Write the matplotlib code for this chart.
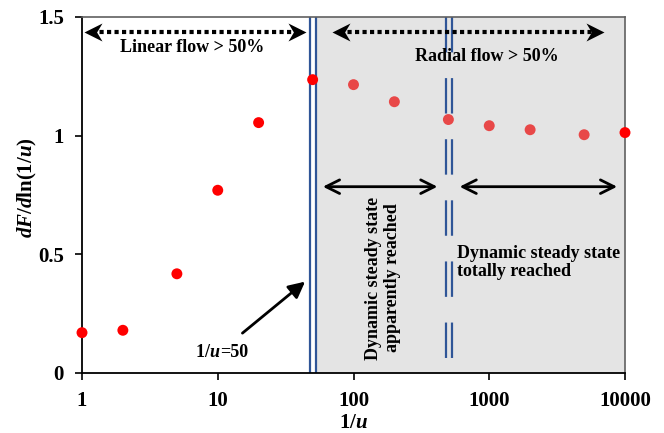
import matplotlib
matplotlib.use("Agg")
import matplotlib.pyplot as plt
from matplotlib.path import Path
from matplotlib.transforms import ScaledTranslation
import numpy as np

x_vals = [1, 2, 5, 10, 20, 50, 100, 200, 500, 1000, 2000, 5000, 10000]
y_vals = [0.17, 0.18, 0.418, 0.77, 1.055, 1.236, 1.215, 1.143, 1.068, 1.042, 1.025, 1.004, 1.013]
pt_colors = ['#FF0000'] * 6 + ['#E84848'] * 6 + ['#FF0000']
x_ticks = [1, 10, 100, 1000, 10000]
x_ticklabels = ['1', '10', '100', '1000', '10000']
y_ticks = [0, 0.5, 1, 1.5]
y_ticklabels = ['0', '0.5', '1', '1.5']

plt.rcParams['font.family'] = 'Liberation Serif'
plt.rcParams['font.weight'] = 'bold'
plt.rcParams['mathtext.fontset'] = 'custom'
plt.rcParams['mathtext.rm'] = 'Liberation Serif:bold'
plt.rcParams['mathtext.it'] = 'Liberation Serif:italic:bold'
plt.rcParams['mathtext.bf'] = 'Liberation Serif:bold'
plt.rcParams['lines.scale_dashes'] = False

fig = plt.figure(figsize=(6.64, 4.33), dpi=100)
ax = fig.add_axes([82/664, 60/433, 543/664, 356/433])
ax.set_xscale('log')
ax.set_xlim(1, 10000)
ax.set_ylim(0, 1.5)

# shaded region
ax.axvspan(53.5, 10000, color='#E4E4E4', zorder=0, lw=0)

blue = '#2F5597'
# solid double line at 1/u = 50
for xv in (47.8, 52.8):
    ax.plot([xv, xv], [1.5, 0], color=blue, lw=1.6, zorder=2)
# dashed double line at 1/u = 500
for xv in (478, 528):
    ax.plot([xv, xv], [1.5, 0], color=blue, lw=1.6, zorder=2,
            linestyle=(0, (25.5, 18.5)))

# data points
ax.scatter(x_vals, y_vals, c=pt_colors, s=62, zorder=4, linewidths=0, clip_on=False)

# stealth arrow-head markers
stealth_r = Path([(0.5, 0), (-0.5, 0.5), (-0.2, 0), (-0.5, -0.5), (0.5, 0)],
                 [Path.MOVETO, Path.LINETO, Path.LINETO, Path.LINETO, Path.CLOSEPOLY])
stealth_l = Path([(-0.5, 0), (0.5, 0.5), (0.2, 0), (0.5, -0.5), (-0.5, 0)],
                 [Path.MOVETO, Path.LINETO, Path.LINETO, Path.LINETO, Path.CLOSEPOLY])
head_px = 18

def dotted_arrow(x0, x1, y):
    off = head_px / 2 / 100
    tl = ax.transData + ScaledTranslation(off, 0, fig.dpi_scale_trans)
    tr = ax.transData + ScaledTranslation(-off, 0, fig.dpi_scale_trans)
    ax.plot([x0 * 1.15, x1 / 1.15], [y, y], color='black', lw=3.0,
            linestyle=(0, (3.0, 2.4)), solid_capstyle='butt', zorder=3)
    ax.plot([x0], [y], marker=stealth_l, markersize=head_px * 0.72, color='black',
            transform=tl, zorder=4, markeredgewidth=0)
    ax.plot([x1], [y], marker=stealth_r, markersize=head_px * 0.72, color='black',
            transform=tr, zorder=4, markeredgewidth=0)

dotted_arrow(1.03, 45, 1.435)
dotted_arrow(69, 6950, 1.435)

ax.text(6.5, 1.37, 'Linear flow > 50%', ha='center', va='center', fontsize=13, fontweight='bold')
ax.text(960, 1.335, 'Radial flow > 50%', ha='center', va='center', fontsize=13, fontweight='bold')

# solid double arrows
for x0, x1 in ((59.5, 415), (605, 8750)):
    ax.annotate('', xy=(x1, 0.785), xytext=(x0, 0.785),
                arrowprops=dict(arrowstyle='<->,head_length=0.7,head_width=0.35',
                                color='black', lw=2.0, shrinkA=0, shrinkB=0,
                                mutation_scale=14), zorder=3)

ax.text(165, 0.40, 'Dynamic steady state\napparently reached', rotation=90,
        ha='center', va='center', fontsize=13, fontweight='bold',
        multialignment='center', linespacing=1.1)
ax.text(580, 0.465, 'Dynamic steady state\ntotally reached', ha='left', va='center',
        fontsize=13, fontweight='bold', linespacing=1.05)

# 1/u = 50 annotation arrow
ax.annotate('', xy=(44, 0.385), xytext=(15.2, 0.168),
            arrowprops=dict(arrowstyle='-|>,head_length=0.7,head_width=0.35',
                            color='black', lw=2.0, shrinkA=0, shrinkB=0,
                            mutation_scale=14), zorder=3)
ax.text(10.4, 0.088, r'$\mathrm{1/}\mathit{u}$', ha='right', va='center', fontsize=13)
ax.text(10.4, 0.088, '=50', ha='left', va='center', fontsize=13, fontweight='bold')

# axes styling
ax.set_xticks(x_ticks)
ax.set_xticklabels(x_ticklabels)
ax.set_yticks(y_ticks)
ax.set_yticklabels(y_ticklabels)
ax.minorticks_off()
ax.tick_params(axis='both', which='major', direction='out', length=5, width=1.2,
               labelsize=15, pad=8)
for lab in ax.get_xticklabels() + ax.get_yticklabels():
    lab.set_fontweight('bold')
for s in ('left', 'bottom'):
    ax.spines[s].set_color('black')
    ax.spines[s].set_linewidth(1.3)
for s in ('top', 'right'):
    ax.spines[s].set_color('#606060')
    ax.spines[s].set_linewidth(1.2)

ax.set_xlabel(r'$\mathrm{1/}\mathit{u}$', fontsize=15, labelpad=2)
ax.set_ylabel(r'$\mathit{dF/d}\mathrm{ln(1/}\mathit{u}\mathrm{)}$', fontsize=15)
ax.yaxis.set_label_coords(-0.08, 0.522)

fig.savefig('out.png', dpi=100)
